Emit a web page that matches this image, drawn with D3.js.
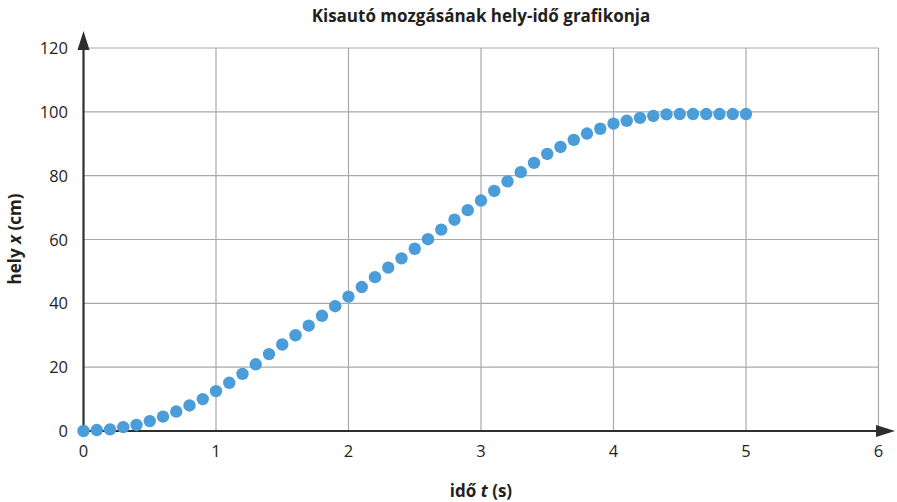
<!DOCTYPE html>
<html>
<head>
<meta charset="utf-8">
<script src="https://cdn.jsdelivr.net/npm/d3@7"></script>
<style>
  body { margin: 0; background: #fff; }
  text { font-family: "Open Sans", "Noto Sans", sans-serif; fill: #231f20; }
</style>
</head>
<body>
<div id="chart"></div>
<script>
// time values (s)
const TIMES = d3.range(51).map(i => +(i / 10).toFixed(1));
// position values (cm)
const POSITIONS = [
  0, 0.3, 0.5, 1.2, 1.9, 3.1, 4.5, 6.1, 8.0, 10.0,
  12.5, 15.1, 17.9, 20.9, 24.1, 27.1, 30.0, 33.0, 36.1, 39.1,
  42.1, 45.1, 48.2, 51.2, 54.1, 57.1, 60.1, 63.1, 66.2, 69.2,
  72.2, 75.2, 78.2, 81.1, 84.0, 86.8, 89.0, 91.2, 93.2, 94.7,
  96.3, 97.2, 98.1, 98.7, 99.2, 99.3, 99.3, 99.3, 99.3, 99.3, 99.3
];
const X_TICKS = [0, 1, 2, 3, 4, 5, 6];
const Y_TICKS = [0, 20, 40, 60, 80, 100, 120];

const width = 897, height = 502;

const x = d3.scaleLinear().domain([0, 6]).range([83.5, 878.5]);
const y = d3.scaleLinear().domain([0, 120]).range([431, 48]);

const svg = d3.select("#chart").append("svg")
  .attr("width", width)
  .attr("height", height);

// grid
svg.append("g").selectAll("line.v")
  .data(X_TICKS.slice(1))
  .enter().append("line")
  .attr("x1", d => x(d)).attr("x2", d => x(d))
  .attr("y1", y(120)).attr("y2", y(0))
  .attr("stroke", "#a7a9ac").attr("stroke-width", 1.2);

svg.append("g").selectAll("line.h")
  .data(Y_TICKS.slice(1))
  .enter().append("line")
  .attr("x1", x(0)).attr("x2", x(6))
  .attr("y1", d => y(d)).attr("y2", d => y(d))
  .attr("stroke", "#a7a9ac").attr("stroke-width", 1.2);

// axes with arrow heads
const axisColor = "#2f2d2e";
svg.append("line")
  .attr("x1", x(0)).attr("x2", 880)
  .attr("y1", y(0)).attr("y2", y(0))
  .attr("stroke", axisColor).attr("stroke-width", 2.2);
svg.append("path")
  .attr("d", `M895,${y(0)} L876,${y(0) - 6} L876,${y(0) + 6} Z`)
  .attr("fill", axisColor);

svg.append("line")
  .attr("x1", x(0)).attr("x2", x(0))
  .attr("y1", y(0)).attr("y2", 46)
  .attr("stroke", axisColor).attr("stroke-width", 2.2);
svg.append("path")
  .attr("d", `M${x(0)},31 L${x(0) - 6},50 L${x(0) + 6},50 Z`)
  .attr("fill", axisColor);

// tick labels
svg.append("g").selectAll("text")
  .data(X_TICKS)
  .enter().append("text")
  .attr("x", d => x(d))
  .attr("y", 457)
  .attr("text-anchor", "middle")
  .style("font-size", "16.5px")
  .text(d => d);

svg.append("g").selectAll("text")
  .data(Y_TICKS)
  .enter().append("text")
  .attr("x", 68)
  .attr("y", d => y(d) + 6)
  .attr("text-anchor", "end")
  .style("font-size", "16.5px")
  .text(d => d);

// points
svg.append("g").selectAll("circle")
  .data(TIMES)
  .enter().append("circle")
  .attr("cx", d => x(d))
  .attr("cy", (d, i) => y(POSITIONS[i]))
  .attr("r", 6.2)
  .attr("fill", "#4a9dd9");

// title
svg.append("text")
  .attr("x", 481)
  .attr("y", 22)
  .attr("text-anchor", "middle")
  .style("font-size", "17px")
  .style("font-weight", 700)
  .text("Kisautó mozgásának hely-idő grafikonja");

// axis titles
const xt = svg.append("text")
  .attr("x", 481)
  .attr("y", 497)
  .attr("text-anchor", "middle")
  .style("font-size", "17px")
  .style("font-weight", 700);
xt.append("tspan").text("idő ");
xt.append("tspan").style("font-style", "italic").text("t");
xt.append("tspan").text(" (s)");

const yt = svg.append("text")
  .attr("transform", "translate(21,239) rotate(-90)")
  .attr("text-anchor", "middle")
  .style("font-size", "17px")
  .style("font-weight", 700);
yt.append("tspan").text("hely ");
yt.append("tspan").style("font-style", "italic").text("x");
yt.append("tspan").text(" (cm)");
</script>
</body>
</html>
